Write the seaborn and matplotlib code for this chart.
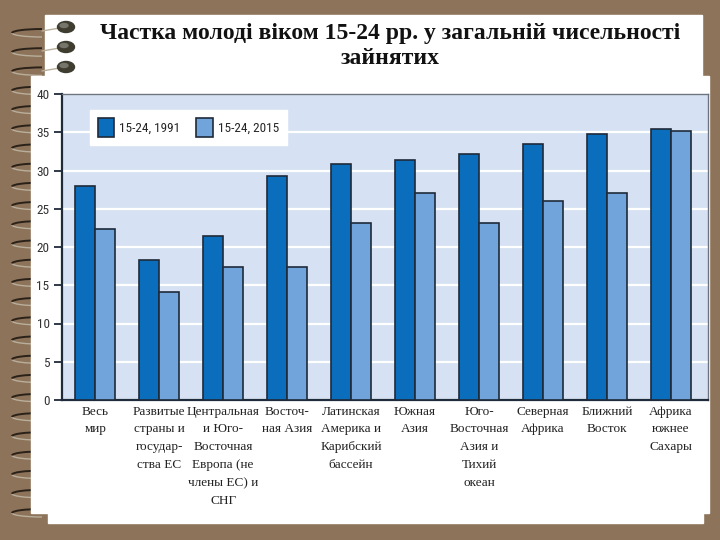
import pandas as pd
import numpy as np
import matplotlib
matplotlib.use("Agg")
import matplotlib.pyplot as plt
import seaborn as sns
from matplotlib import font_manager
from matplotlib.patches import Rectangle, Arc, Ellipse

# data
regions = ["Весь\nмир",
           "Развитые\nстраны и\nгосудар-\nства ЕС",
           "Центральная\nи Юго-\nВосточная\nЕвропа (не\nчлены ЕС) и\nСНГ",
           "Восточ-\nная Азия",
           "Латинская\nАмерика и\nКарибский\nбассейн",
           "Южная\nАзия",
           "Юго-\nВосточная\nАзия и\nТихий\nокеан",
           "Северная\nАфрика",
           "Ближний\nВосток",
           "Африка\nюжнее\nСахары"]
share_1991 = [28.0, 18.3, 21.4, 29.3, 30.8, 31.4, 32.1, 33.5, 34.8, 35.4]
share_2015 = [22.4, 14.1, 17.4, 17.4, 23.1, 27.0, 23.1, 26.0, 27.0, 35.1]
series = ["15-24, 1991", "15-24, 2015"]
yticks = [0, 5, 10, 15, 20, 25, 30, 35, 40]

df = pd.DataFrame({
    "region": regions * 2,
    "value": share_1991 + share_2015,
    "series": [series[0]] * len(regions) + [series[1]] * len(regions),
})

sns.set_style("white")

# narrow sans for the numbers, if one is installed
fonts = {(f.name, f.stretch) for f in font_manager.fontManager.ttflist}
names = {n for n, s in fonts}
narrow_name = next((n for n in ["Roboto Condensed", "Liberation Sans Narrow",
                                "Open Sans Condensed", "Noto Sans Condensed"] if n in names), None)
if narrow_name is None:
    has_dv_cond = any(n == "DejaVu Sans" and s in ("condensed", "semi-condensed") for n, s in fonts)
    narrow = {"family": "DejaVu Sans", "stretch": "condensed"} if has_dv_cond else {"family": "Liberation Sans"}
else:
    narrow = {"family": narrow_name}

brown = "#8C7359"
edge = "#1F2A3A"

fig = plt.figure(figsize=(7.2, 5.4), dpi=100)

# slide background: brown board, white paper, spiral rings
bg = fig.add_axes([0, 0, 1, 1])
bg.set_xlim(0, 720)
bg.set_ylim(540, 0)
bg.axis("off")
bg.add_patch(Rectangle((0, 0), 720, 540, color=brown, zorder=0))
for y in np.arange(33, 515, 19.2):
    bg.add_patch(Arc((42, y), 60, 8, theta1=90, theta2=180, color="#B9AE9C", lw=1.0, zorder=0.5))
    bg.add_patch(Arc((42, y), 60, 8, theta1=180, theta2=270, color="#2A2119", lw=1.4, zorder=0.5))
bg.add_patch(Rectangle((45, 15), 657, 62, color="white", zorder=1))
bg.add_patch(Rectangle((31, 76), 678, 437, color="white", zorder=1))
bg.add_patch(Rectangle((48, 512), 655, 11, color="white", zorder=1))
for y in [27, 47, 67]:
    bg.plot([42, 60], [y + 4, y + 1], color="#B9AE9C", lw=1.0, zorder=3)
    bg.add_patch(Ellipse((66, y), 17, 11, color="#3E3D30", zorder=3))
    bg.add_patch(Ellipse((64, y - 1.5), 8, 4, color="#77766A", zorder=3))

fig.text(390 / 720, 1 - 46 / 540,
         "Частка молоді віком 15-24 рр. у загальній чисельності\nзайнятих",
         ha="center", va="center", fontsize=17, fontweight="bold",
         family="Liberation Serif", linespacing=1.3, color="#111111")

ax = fig.add_axes([62 / 720, 140 / 540, 646 / 720, 306 / 540])
ax.set_facecolor("#D6E2F3")
ax.set_axisbelow(True)
ax.yaxis.grid(True, color="white", lw=1.6)

sns.barplot(data=df, x="region", y="value", hue="series",
            palette=["#0A6EBD", "#70A4DA"], saturation=1, width=0.625, gap=0,
            edgecolor=edge, linewidth=1.2, ax=ax, zorder=3)

ax.set_xlim(-0.52, 9.58)
ax.set_ylim(0, 40)
ax.set_yticks(yticks)
ax.set_yticklabels([str(t) for t in yticks], fontsize=9.5, color="#333333", **narrow)
ax.tick_params(axis="y", direction="out", length=6, width=1.3, color=edge, left=True, pad=3)
ax.tick_params(axis="x", length=0, pad=4)
for lab in ax.get_xticklabels():
    lab.set_family("Liberation Serif")
    lab.set_fontsize(9.5)
    lab.set_linespacing(1.65)
    lab.set_color("#222222")
    lab.set_va("top")
ax.set_xlabel("")
ax.set_ylabel("")

for side in ["left", "bottom"]:
    ax.spines[side].set_color(edge)
    ax.spines[side].set_linewidth(1.6)
for side in ["top", "right"]:
    ax.spines[side].set_color("#6C7480")
    ax.spines[side].set_linewidth(1.0)

handles, labels = ax.get_legend_handles_labels()
for h in handles:
    h.set_edgecolor(edge)
    h.set_linewidth(1.2)
leg = ax.legend(handles, labels, loc="upper left", bbox_to_anchor=(0.043, 0.948),
                borderaxespad=0, ncol=2, frameon=True, fancybox=False,
                handlelength=1.25, handleheight=1.9, handletextpad=0.4,
                columnspacing=1.2, borderpad=0.6,
                prop=dict(size=9.5, **narrow))
leg.get_frame().set_facecolor("white")
leg.get_frame().set_edgecolor("white")
leg.get_frame().set_alpha(1)

fig.savefig("out.png", dpi=100, facecolor=brown)
